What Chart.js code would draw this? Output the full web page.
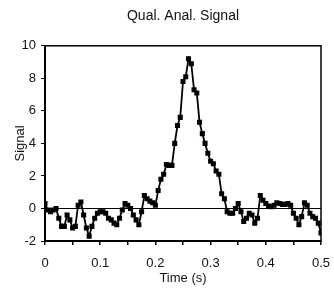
<!DOCTYPE html>
<html>
<head>
<meta charset="utf-8">
<script src="https://cdn.jsdelivr.net/npm/chart.js@4"></script>
<style>
html,body{margin:0;padding:0;background:#fff;}
#wrap{width:334px;height:302px;position:relative;}
</style>
</head>
<body>
<div id="wrap"><canvas id="c" width="334" height="302"></canvas></div>
<script>
const chartTitle = "Qual. Anal. Signal";
const xTitle = "Time (s)";
const yTitle = "Signal";
const timeStart = 0;
const timeStep = 0.005;
const signal = [
  0.3, -0.1, -0.2, -0.1, 0.0, -0.6, -1.1, -1.1, -0.4, -0.7,
  -1.2, -1.1, 0.2, 0.4, -0.4, -1.2, -1.7, -1.1, -0.6, -0.3,
  -0.2, -0.2, -0.3, -0.6, -0.7, -0.9, -1.0, -0.6, -0.1, 0.3,
  0.2, 0.0, -0.4, -0.7, -1.0, -0.2, 0.8, 0.6, 0.45, 0.35,
  0.2, 1.1, 1.8, 2.1, 2.7, 2.65, 2.65, 4.0, 5.1, 5.6,
  7.8, 8.1, 9.2, 8.9, 7.3, 7.1, 5.3, 4.6, 4.0, 3.4,
  2.9, 2.75, 2.3, 2.1, 0.9, 0.6, -0.2, -0.3, -0.3, 0.0,
  0.3, -0.2, -0.8, -0.6, -0.3, -0.4, -0.9, -0.6, 0.8, 0.5,
  0.3, 0.15, 0.1, 0.2, 0.35, 0.3, 0.25, 0.25, 0.3, 0.2,
  -0.3, -0.6, -1.0, -0.5, 0.35, 0.2, -0.3, -0.5, -0.6, -0.9,
  -1.5
];
const times = signal.map((v, i) => +(timeStart + i * timeStep).toFixed(3));
const xTickLabels = ["0", "0.1", "0.2", "0.3", "0.4", "0.5"];
const yTickLabels = ["-2", "0", "2", "4", "6", "8", "10"];

const points = times.map((t, i) => ({x: t, y: signal[i]}));
const FONT = "'Liberation Sans', Arial, sans-serif";

const frame = {
  id: 'frame',
  afterDatasetsDraw(chart) {
    const a = chart.chartArea, ctx = chart.ctx;
    ctx.save();
    ctx.strokeStyle = '#000';
    ctx.lineWidth = 1.5;
    ctx.strokeRect(a.left, a.top, a.right - a.left, a.bottom - a.top);
    ctx.restore();
  }
};

new Chart(document.getElementById('c'), {
  type: 'line',
  data: {
    datasets: [{
      data: points,
      borderColor: '#000',
      backgroundColor: '#000',
      borderWidth: 1.8,
      pointStyle: 'rect',
      pointRadius: 2.3,
      pointHoverRadius: 2.3,
      tension: 0
    }]
  },
  plugins: [frame],
  options: {
    responsive: false,
    animation: false,
    layout: {padding: {left: 0, right: 13, top: 0, bottom: 16}},
    plugins: {
      legend: {display: false},
      tooltip: {enabled: false},
      title: {
        display: true,
        fullSize: false,
        text: chartTitle,
        color: '#111',
        font: {family: FONT, size: 14, weight: 'normal'},
        padding: {top: 8, bottom: 21}
      }
    },
    scales: {
      x: {
        type: 'linear',
        min: 0, max: 0.5,
        afterFit(s) { s.height = 45; s.paddingLeft = 0; s.paddingRight = 0; },
        ticks: {
          stepSize: 0.05,
          autoSkip: false,
          maxRotation: 0,
          color: '#111',
          padding: 11,
          font: {family: FONT, size: 13},
          callback(v) {
            const k = Math.round(v * 20);
            if (k % 2 !== 0) return '';
            return xTickLabels[k / 2];
          }
        },
        grid: {display: true, drawOnChartArea: false, tickLength: 4, tickColor: '#000', lineWidth: 1.5},
        border: {display: true, color: '#000', width: 2},
        title: {display: true, text: xTitle, color: '#111', font: {family: FONT, size: 13}, padding: {top: 0, bottom: 0}}
      },
      y: {
        type: 'linear',
        min: -2, max: 10,
        afterFit(s) { s.width = 45; s.paddingTop = 0; s.paddingBottom = 0; },
        ticks: {
          stepSize: 2,
          color: '#111',
          padding: 5,
          font: {family: FONT, size: 13},
          callback(v) {
            const k = Math.round((v + 2) / 2);
            return yTickLabels[k];
          }
        },
        grid: {
          display: true,
          drawOnChartArea: true,
          tickLength: 4,
          tickColor: '#000',
          color: ctx => (ctx.tick && ctx.tick.value === 0) ? '#000' : 'rgba(0,0,0,0)',
          lineWidth: 1
        },
        border: {display: true, color: '#000', width: 2},
        title: {display: true, text: yTitle, color: '#111', font: {family: FONT, size: 13}, padding: {top: 13, bottom: 0}}
      }
    }
  }
});
</script>
</body>
</html>
